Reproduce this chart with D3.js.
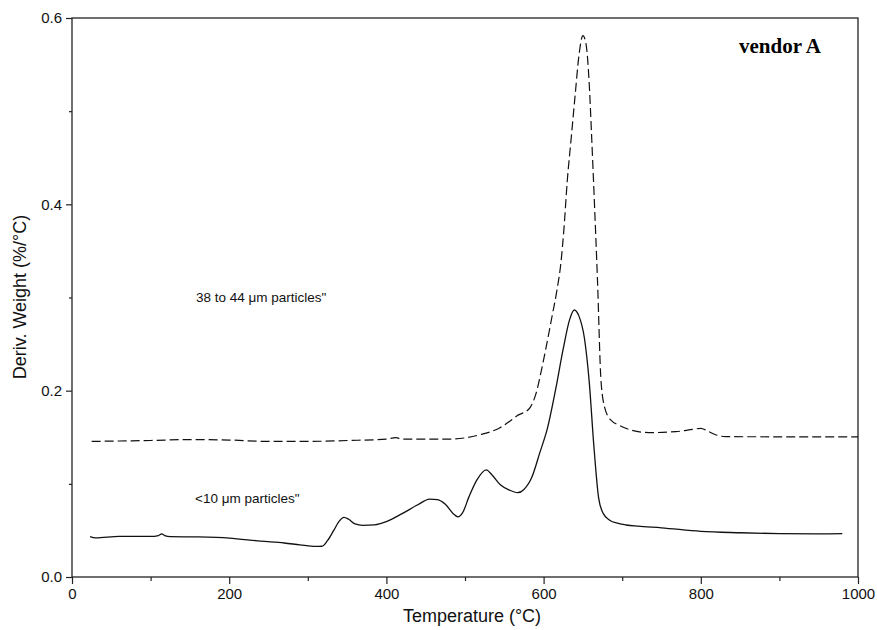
<!DOCTYPE html>
<html>
<head>
<meta charset="utf-8">
<script src="https://cdn.jsdelivr.net/npm/d3@7"></script>
<style>
  body { margin: 0; background: #fff; }
  svg { display: block; }
</style>
</head>
<body>
<div id="app"></div>
<script>
// temperature (°C) and deriv. weight (%/°C)
const smallTemp = [23, 30, 60, 100, 110, 114, 118, 125, 160, 200, 240, 270, 290, 310, 318, 325, 333, 340, 346, 352, 360, 370, 385, 400, 420, 440, 455, 465, 475, 485, 491, 497, 505, 515, 527, 535, 545, 556, 567, 575, 585, 595, 605, 615, 625, 633, 639, 645, 652, 658, 664, 670, 676, 684, 695, 705, 720, 750, 800, 850, 900, 950, 980];
const smallDeriv = [0.0433, 0.042, 0.0435, 0.0435, 0.0445, 0.0462, 0.0445, 0.0433, 0.043, 0.0418, 0.0385, 0.0365, 0.0345, 0.0328, 0.033, 0.039, 0.05, 0.06, 0.064, 0.062, 0.057, 0.0555, 0.056, 0.0595, 0.068, 0.0775, 0.0835, 0.083, 0.078, 0.068, 0.0645, 0.069, 0.086, 0.104, 0.115, 0.109, 0.099, 0.0935, 0.0905, 0.094, 0.107, 0.133, 0.16, 0.2, 0.245, 0.276, 0.2866, 0.28, 0.256, 0.21, 0.14, 0.085, 0.068, 0.061, 0.0575, 0.0558, 0.0545, 0.0528, 0.049, 0.0475, 0.0465, 0.0462, 0.0465];

const largeTemp = [25, 60, 100, 150, 200, 250, 300, 350, 400, 412, 420, 480, 518, 544, 560, 568, 576, 583, 590, 597, 604, 611, 617, 622, 626, 630, 635, 640, 645, 650, 654, 658, 661, 664.5, 668.5, 673, 678, 686, 696, 710, 734, 768, 790, 800, 808, 818, 832, 900, 1000];
const largeDeriv = [0.1455, 0.146, 0.1465, 0.1475, 0.147, 0.1455, 0.1455, 0.1465, 0.148, 0.1495, 0.148, 0.148, 0.1525, 0.16, 0.169, 0.174, 0.177, 0.182, 0.196, 0.221, 0.25, 0.281, 0.308, 0.337, 0.375, 0.424, 0.47, 0.516, 0.56, 0.581, 0.572, 0.53, 0.475, 0.405, 0.32, 0.211, 0.181, 0.168, 0.163, 0.158, 0.155, 0.156, 0.1585, 0.1595, 0.157, 0.153, 0.1506, 0.1505, 0.1505];

const xTicks = [0, 200, 400, 600, 800, 1000];
const xMinor = [100, 300, 500, 700, 900];
const yTicks = [0.0, 0.2, 0.4, 0.6];
const yMinor = [0.1, 0.3, 0.5];

const width = 877;
const height = 630;
const margin = { top: 18, right: 19, bottom: 53, left: 72 };

const svg = d3
  .select("#app")
  .append("svg")
  .attr("width", width)
  .attr("height", height);

const x = d3
  .scaleLinear()
  .domain([0, 1000])
  .range([margin.left, width - margin.right]);

const y = d3
  .scaleLinear()
  .domain([0, 0.6])
  .range([height - margin.bottom, margin.top]);

const axisColor = "#222";
const font = "'Liberation Sans', Arial, sans-serif";

//bottom axis
const xAxis = svg
  .append("g")
  .attr("transform", "translate(0," + y(0) + ")")
  .call(d3.axisBottom(x).tickValues(xTicks).tickSize(7).tickPadding(4).tickFormat(d3.format("d")));

svg
  .append("g")
  .attr("transform", "translate(0," + y(0) + ")")
  .call(d3.axisBottom(x).tickValues(xMinor).tickSize(4).tickFormat(""));

//left axis
const yAxis = svg
  .append("g")
  .attr("transform", "translate(" + x(0) + ",0)")
  .call(d3.axisLeft(y).tickValues(yTicks).tickSize(6).tickPadding(4).tickFormat(d3.format(".1f")));

svg
  .append("g")
  .attr("transform", "translate(" + x(0) + ",0)")
  .call(d3.axisLeft(y).tickValues(yMinor).tickSize(3).tickFormat(""));

svg.selectAll(".domain").remove();
svg.selectAll(".tick line").attr("stroke", axisColor).attr("stroke-width", 1.2);
svg
  .selectAll(".tick text")
  .attr("fill", "#111")
  .style("font-family", font)
  .style("font-size", "15px");

//frame
svg
  .append("rect")
  .attr("x", x(0))
  .attr("y", y(0.6))
  .attr("width", x(1000) - x(0))
  .attr("height", y(0) - y(0.6))
  .attr("fill", "none")
  .attr("stroke", axisColor)
  .attr("stroke-width", 1.3);

//curves
const line = d3
  .line()
  .x((d) => x(d[0]))
  .y((d) => y(d[1]))
  .curve(d3.curveMonotoneX);

svg
  .append("path")
  .datum(largeTemp.map((t, i) => [t, largeDeriv[i]]))
  .attr("d", line)
  .attr("fill", "none")
  .attr("stroke", "#111")
  .attr("stroke-width", 1.2)
  .attr("stroke-dasharray", "9,4");

svg
  .append("path")
  .datum(smallTemp.map((t, i) => [t, smallDeriv[i]]))
  .attr("d", line)
  .attr("fill", "none")
  .attr("stroke", "#111")
  .attr("stroke-width", 1.3);

//curve labels
svg
  .append("text")
  .attr("x", 196)
  .attr("y", 302)
  .style("font-family", font)
  .style("font-size", "13.5px")
  .attr("fill", "#111")
  .text("38 to 44 \u03bcm particles\"");

svg
  .append("text")
  .attr("x", 195)
  .attr("y", 503)
  .style("font-family", font)
  .style("font-size", "13.5px")
  .attr("fill", "#111")
  .text("<10 \u03bcm particles\"");

//vendor label
svg
  .append("text")
  .attr("x", 739)
  .attr("y", 53)
  .style("font-family", "'Liberation Serif', 'Times New Roman', serif")
  .style("font-weight", "bold")
  .style("font-size", "21px")
  .attr("fill", "#000")
  .text("vendor A");

//axis titles
svg
  .append("text")
  .attr("x", 472)
  .attr("y", 622)
  .attr("text-anchor", "middle")
  .style("font-family", font)
  .style("font-size", "18px")
  .attr("fill", "#111")
  .text("Temperature (\u00b0C)");

svg
  .append("text")
  .attr("transform", "translate(26,297) rotate(-90)")
  .attr("text-anchor", "middle")
  .style("font-family", font)
  .style("font-size", "18px")
  .attr("fill", "#111")
  .text("Deriv. Weight (%/\u00b0C)");
</script>
</body>
</html>
